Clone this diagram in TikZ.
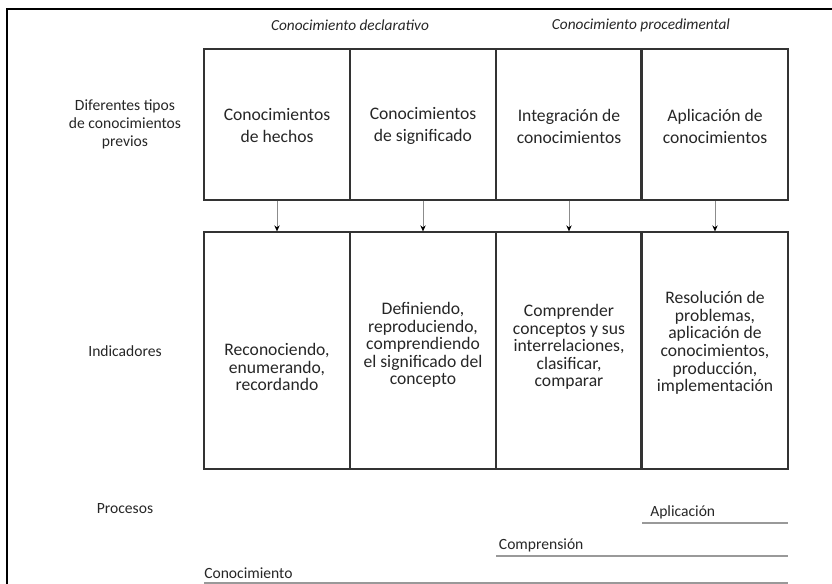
\documentclass[tikz,border=0pt]{standalone}
\usepackage{fontspec}
\setmainfont{Carlito}
\usetikzlibrary{arrows.meta}

\begin{document}
\begin{tikzpicture}[x=0.75pt,y=-0.75pt,
  caja/.style={draw=black!80, line width=0.9pt, minimum width=109.5pt, inner sep=0pt},
  arriba/.style={caja, minimum height=113.25pt},
  abajo/.style={caja, minimum height=177.75pt},
  texto/.style={align=center, text=black!85, font=\fontsize{13.2}{16.5}\selectfont},
  textoind/.style={texto, font=\fontsize{13.2}{13.2}\selectfont},
  fila/.style={align=center, text=black!85, font=\fontsize{11.7}{13.5}\selectfont},
  titulo/.style={text=black!85, font=\fontsize{11.5}{13.5}\selectfont\itshape},
  flecha/.style={draw=black!45, line width=0.7pt, -{Stealth[black,length=4.5pt,width=4pt]}},
  linea/.style={draw=black!40, line width=1pt}]
\useasboundingbox (0,0) rectangle (832,584);
% marco exterior
\draw[black, line width=1.1pt] (7,584) -- (7,9) -- (832,9);

% titulos
\node[titulo] (decl) at (350,25) {Conocimiento declarativo};
\node[titulo] (proc) at (641,25) {Conocimiento procedimental};

% etiquetas de las filas
\node[fila] (tipos) at (125,124) {Diferentes tipos\\de conocimientos\\previos};
\node[fila] (ind) at (125,351) {Indicadores};
\node[fila] (pro) at (125,509) {Procesos};

% cajas
\foreach \n/\x in {1/277,2/423,3/569,4/715}{
  \node[arriba] (h\n) at (\x,124.5) {};
  \node[abajo] (i\n) at (\x,350.5) {};
  \draw[flecha] (h\n) -- (i\n);
}
\node[arriba, draw=none] (h4) at (715,124.5) {};
\node[abajo, draw=none] (i4) at (715,350.5) {};
\draw[black!80, line width=0.9pt] (h4.north west) -- (h4.north east) (h4.south west) -- (h4.south east)
  (i4.north west) -- (i4.north east) (i4.south west) -- (i4.south east);
\draw[black!80, line width=1.4pt] (h4.north west) -- (h4.south west) (i4.north west) -- (i4.south west);

% textos
\node[texto] (th1) at (277,126) {Conocimientos\\de hechos};
\node[texto] (th2) at (423,126) {Conocimientos\\de significado};
\node[texto] (th3) at (569,126) {Integración de\\conocimientos};
\node[texto] (th4) at (715,126) {Aplicación de\\conocimientos};
\node[textoind] (ti1) at (277,367) {Reconociendo,\\enumerando,\\recordando};
\node[textoind] (ti2) at (423,345) {Definiendo,\\reproduciendo,\\comprendiendo\\el significado del\\concepto};
\node[textoind] (ti3) at (569,347) {Comprender\\conceptos y sus\\interrelaciones,\\clasificar,\\comparar};
\node[textoind] (ti4) at (715,343) {Resolución de\\problemas,\\aplicación de\\conocimientos,\\producción,\\implementación};

% procesos
\coordinate (a0) at (642,523); \coordinate (a1) at (788,523);
\coordinate (c0) at (496,556); \coordinate (c1) at (788,556);
\coordinate (k0) at (204,583); \coordinate (k1) at (788,583);
\draw[linea] (a0) -- (a1);
\draw[linea] (c0) -- (c1);
\draw[linea] (k0) -- (k1);
\node[fila, anchor=south west, inner sep=3pt, xshift=3pt] (apl) at (a0) {Aplicación};
\node[fila, anchor=south west, inner sep=3pt, xshift=-1pt] (com) at (c0) {Comprensión};
\node[fila, anchor=south west, inner sep=3pt, xshift=-3pt] (con) at (k0) {Conocimiento};
\end{tikzpicture}
\end{document}
